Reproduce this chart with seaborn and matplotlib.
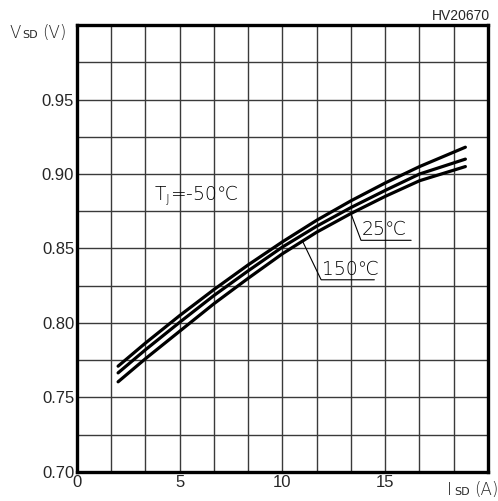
import numpy as np
import pandas as pd
import matplotlib
matplotlib.use("Agg")
import matplotlib.pyplot as plt
import seaborn as sns

sns.set_style("white")
plt.rcParams['font.family'] = ['Liberation Sans', 'DejaVu Sans']

# Isd (A) sample points
isd = [2.0, 3.33, 5.0, 6.67, 8.33, 10.0, 11.67, 13.33, 15.0, 16.67, 18.9]
vsd_m50 = [0.771, 0.7865, 0.805, 0.8225, 0.839, 0.8545, 0.869, 0.882, 0.894, 0.905, 0.918]
vsd_25 = [0.7665, 0.782, 0.8005, 0.8185, 0.835, 0.851, 0.865, 0.8775, 0.889, 0.900, 0.910]
vsd_150 = [0.7605, 0.776, 0.7945, 0.813, 0.830, 0.8465, 0.861, 0.8735, 0.885, 0.8955, 0.905]
temps = ['-50', '25', '150']

x_ticks = [0, 5 / 3, 10 / 3, 5, 20 / 3, 25 / 3, 10, 35 / 3, 40 / 3, 15, 50 / 3, 55 / 3, 20]
x_labels = ['0', '', '', '5', '', '', '10', '', '', '15', '', '', '']
y_ticks = [0.70, 0.725, 0.75, 0.775, 0.80, 0.825, 0.85, 0.875, 0.90, 0.925, 0.95, 0.975, 1.00]
y_labels = ['0.70', '', '0.75', '', '0.80', '', '0.85', '', '0.90', '', '0.95', '', '']

df = pd.DataFrame({
    'Isd': isd * 3,
    'Vsd': vsd_m50 + vsd_25 + vsd_150,
    'Tj': [temps[0]] * len(isd) + [temps[1]] * len(isd) + [temps[2]] * len(isd),
})

fig = plt.figure(figsize=(4.98, 5.01), dpi=100)
ax = fig.add_axes([0.1546, 0.058, 0.8253, 0.892])

sns.lineplot(data=df, x='Isd', y='Vsd', hue='Tj', palette=['black'] * 3,
             linewidth=2.3, legend=False, ax=ax, zorder=3)

ax.set_xlim(0, 20)
ax.set_ylim(0.70, 1.00)
ax.set_xticks(x_ticks)
ax.set_xticklabels(x_labels, fontsize=12)
ax.set_yticks(y_ticks)
ax.set_yticklabels(y_labels, fontsize=12)
ax.tick_params(length=0, pad=2)
ax.set_xlabel('')
ax.set_ylabel('')
ax.grid(True, color='#3a3a3a', linewidth=1.0)
for s in ax.spines.values():
    s.set_linewidth(2.4)
    s.set_color('black')

ann = dict(family=['DejaVu Sans'], fontweight='light', fontsize=13.5, color='black')
ax.text(3.75, 0.886, 'T$_{\\mathregular{J}}$=-50℃', va='center', ha='left', **ann)

# 25 C leader
ax.plot([13.33, 13.82, 16.26], [0.8735, 0.8555, 0.8555], color='black', lw=0.8)
ax.text(13.85, 0.8562, '25℃', va='bottom', ha='left', **ann)
# 150 C leader
ax.plot([10.99, 11.88, 14.47], [0.8545, 0.829, 0.829], color='black', lw=0.8)
ax.text(11.9, 0.8297, '150℃', va='bottom', ha='left', **ann)

fig.text(0.02, 0.934, 'V', fontsize=12, family=['DejaVu Sans'], fontweight='light', va='center')
fig.text(0.045, 0.930, 'SD', fontsize=8, family=['DejaVu Sans'], va='center')
fig.text(0.085, 0.934, '(V)', fontsize=12, family=['DejaVu Sans'], fontweight='light', va='center')

fig.text(0.898, 0.022, 'I', fontsize=12, family=['DejaVu Sans'], fontweight='light', va='center')
fig.text(0.912, 0.018, 'SD', fontsize=8, family=['DejaVu Sans'], va='center')
fig.text(0.952, 0.022, '(A)', fontsize=12, family=['DejaVu Sans'], fontweight='light', va='center')

fig.text(0.983, 0.968, 'HV20670', fontsize=10, ha='right', va='center')

fig.savefig('out.png', dpi=100)
